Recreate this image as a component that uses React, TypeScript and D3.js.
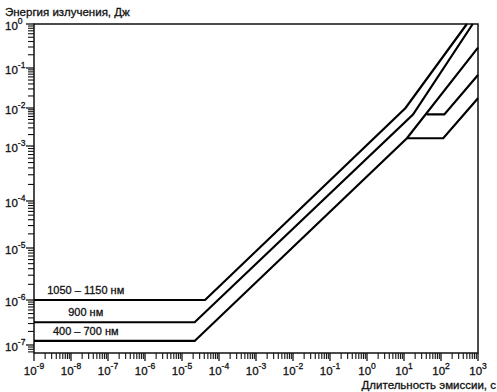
import React from "react";
import * as d3 from "d3";

const W = 497;
const H = 392;

// axis tick exponents
const xTickExps = [-9, -8, -7, -6, -5, -4, -3, -2, -1, 0, 1, 2, 3];
const yTickExps = [0, -1, -2, -3, -4, -5, -6, -7];

// curves: [duration s, energy J]
const curve1050: [number, number][] = [[1e-9, 1e-6], [4.2e-5, 1e-6], [11, 1e-2], [500, 1]];
const curve900: [number, number][] = [[1e-9, 3.2e-7], [2.2e-5, 3.2e-7], [17.5, 6.7e-3], [720, 1]];
const curve400: [number, number][] = [[1e-9, 1.23e-7], [2.2e-5, 1.23e-7], [12, 1.6e-3], [1000, 0.29]];
const branchA: [number, number][] = [[12, 1.6e-3], [115, 1.6e-3], [1000, 0.0175]];
const branchB: [number, number][] = [[41, 6.8e-3], [123, 6.8e-3], [1000, 0.067]];

const curveLabels = ["1050 – 1150 нм", "900 нм", "400 – 700 нм"];
const curveLabelLevels = [1e-6, 3.2e-7, 1.23e-7];
const labelT = 2.5e-8;

const yTitle = "Энергия излучения, Дж";
const xTitle = "Длительность эмиссии, с";

const FONT = "'Liberation Sans', Arial, sans-serif";

export default function App() {
  const left = 34, right = 478, top = 24, bottom = 353;
  const x = d3.scaleLog().domain([1e-9, 1e3]).range([left, right]);
  // piecewise log scale reproducing the reference's irregular decade spacing
  const y = d3
    .scaleLog()
    .domain([1, 1e-1, 1e-2, 1e-3, 1e-4, 1e-5, 1e-6, 1e-7, Math.pow(10, -7.18)])
    .range([top, 68, 108, 146, 201, 248, 300, 345, bottom]);

  const line = d3
    .line<[number, number]>()
    .x((d) => x(d[0]))
    .y((d) => y(d[1]));

  const xMinor: number[] = [];
  for (let e = -9; e < 3; e++) for (let k = 2; k <= 9; k++) xMinor.push(k * Math.pow(10, e));
  const yMinor: number[] = [];
  const yMin = Math.pow(10, -7.18);
  for (let e = -8; e < 0; e++)
    for (let k = 2; k <= 9; k++) {
      const v = k * Math.pow(10, e);
      if (v >= yMin && v < 1) yMinor.push(v);
    }

  const curves = [curve1050, curve900, curve400, branchA, branchB];
  const txt = { fill: "#111", stroke: "#111", strokeWidth: 0.3 };

  return (
    <svg
      width={W}
      height={H}
      style={{ position: "absolute", left: 0, top: 0, background: "#fff" }}
      fontFamily={FONT}
    >
      <rect x={0} y={0} width={W} height={H} fill="#fff" />
      {/* frame */}
      <rect x={left} y={top} width={right - left} height={bottom - top} fill="none" stroke="#111" strokeWidth={1.5} />

      {/* x ticks */}
      {xMinor.map((v, i) => (
        <line key={"xm" + i} x1={x(v)} x2={x(v)} y1={bottom} y2={bottom + 6} stroke="#111" strokeWidth={1.1} />
      ))}
      {xTickExps.map((e) => (
        <line key={"xM" + e} x1={x(Math.pow(10, e))} x2={x(Math.pow(10, e))} y1={bottom} y2={bottom + 8} stroke="#111" strokeWidth={1.3} />
      ))}
      {xTickExps.map((e) => (
        <text key={"xl" + e} x={x(Math.pow(10, e))} y={375} textAnchor="middle" fontSize={11.5} {...txt}>
          10
          <tspan fontSize={8.5} dy={-6}>
            {e < 0 ? "-" + Math.abs(e) : String(e)}
          </tspan>
        </text>
      ))}

      {/* y ticks */}
      {yMinor.map((v, i) => (
        <line key={"ym" + i} x1={left - 6} x2={left} y1={y(v)} y2={y(v)} stroke="#111" strokeWidth={1.1} />
      ))}
      {yTickExps.map((e) => (
        <line key={"yM" + e} x1={left - 8} x2={left} y1={y(Math.pow(10, e))} y2={y(Math.pow(10, e))} stroke="#111" strokeWidth={1.3} />
      ))}
      {yTickExps.map((e) => (
        <text key={"yl" + e} x={5} y={y(Math.pow(10, e)) + 6} fontSize={11.5} {...txt}>
          10
          <tspan fontSize={8.5} dy={-6}>
            {e < 0 ? "-" + Math.abs(e) : String(e)}
          </tspan>
        </text>
      ))}

      {/* curves */}
      {curves.map((c, i) => (
        <path key={"c" + i} d={line(c) || ""} fill="none" stroke="#000" strokeWidth={2.2} strokeLinejoin="miter" />
      ))}

      {/* curve labels */}
      {curveLabels.map((t, i) => (
        <text key={"cl" + i} x={x(labelT)} y={y(curveLabelLevels[i]) - 6} textAnchor="middle" fontSize={11} {...txt}>
          {t}
        </text>
      ))}

      {/* titles */}
      <text x={5} y={15.5} fontSize={11.5} {...txt}>
        {yTitle}
      </text>
      <text x={496} y={389} textAnchor="end" fontSize={11.5} {...txt}>
        {xTitle}
      </text>
    </svg>
  );
}
